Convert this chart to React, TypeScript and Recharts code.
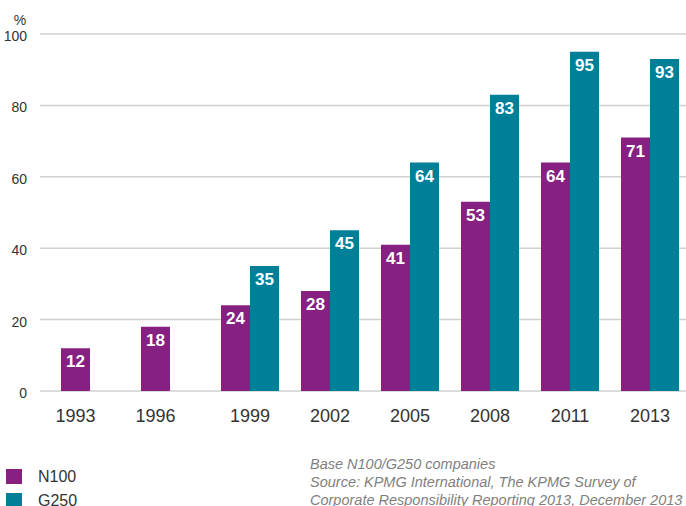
import React from 'react';
import {
  BarChart,
  Bar,
  XAxis,
  YAxis,
  CartesianGrid,
  LabelList,
  Label,
} from 'recharts';

const years = ['1993', '1996', '1999', '2002', '2005', '2008', '2011', '2013'];
const n100 = [12, 18, 24, 28, 41, 53, 64, 71];
const g250: (number | null)[] = [null, null, 35, 45, 64, 83, 95, 93];
const yTicks = [0, 20, 40, 60, 80, 100];

const series = [
  { key: 'n100', name: 'N100', color: '#862181' },
  { key: 'g250', name: 'G250', color: '#007F99' },
];

const notes = [
  'Base N100/G250 companies',
  'Source: KPMG International, The KPMG Survey of',
  'Corporate Responsibility Reporting 2013, December 2013',
];

const data = years.map((year, i) => ({ year, n100: n100[i], g250: g250[i] }));

const FONT = '"Liberation Sans", Arial, sans-serif';
const BAR = 29;

// years with only one bar get their label moved under that bar
const XTick = (props: any) => {
  const { x, y, payload } = props;
  const i = years.indexOf(payload.value);
  const shift = g250[i] == null ? -BAR / 2 : 0;
  return (
    <text
      x={x + shift}
      y={y}
      dy={23}
      textAnchor="middle"
      fontSize={18}
      fontFamily={FONT}
      fill="#333"
    >
      {payload.value}
    </text>
  );
};

const YTick = (props: any) => {
  const { y, payload } = props;
  return (
    <text
      x={27}
      y={y}
      dy={7}
      textAnchor="end"
      fontSize={14}
      fontFamily={FONT}
      fill="#333"
    >
      {payload.value}
    </text>
  );
};

export default function App() {
  return (
    <div
      style={{
        position: 'absolute',
        left: 0,
        top: 0,
        width: 686,
        height: 506,
        overflow: 'hidden',
        background: '#fff',
        fontFamily: FONT,
      }}
    >
      <BarChart
        width={690}
        height={430}
        data={data}
        margin={{ top: 34, right: 0, left: 0, bottom: 0 }}
        barGap={0}
        barSize={BAR}
      >
        <CartesianGrid vertical={false} stroke="#d0d0d0" strokeWidth={1.5} />
        <XAxis
          dataKey="year"
          axisLine={false}
          tickLine={false}
          height={39}
          padding={{ left: 10, right: 0 }}
          tick={<XTick />}
          interval={0}
        />
        <YAxis
          width={40}
          domain={[0, 100]}
          ticks={yTicks}
          axisLine={false}
          tickLine={false}
          tick={<YTick />}
          interval={0}
        >
          <Label
            content={(p: any) => (
              <text
                x={20}
                y={p.viewBox.y - 9}
                textAnchor="middle"
                fontSize={14}
                fontFamily={FONT}
                fill="#333"
              >
                %
              </text>
            )}
          />
        </YAxis>
        {series.map((s) => (
          <Bar
            key={s.key}
            dataKey={s.key}
            name={s.name}
            fill={s.color}
            isAnimationActive={false}
          >
            <LabelList
              dataKey={s.key}
              position="insideTop"
              offset={7}
              fill="#fff"
              fontSize={17}
              fontWeight="bold"
              fontFamily={FONT}
            />
          </Bar>
        ))}
      </BarChart>

      <div style={{ position: 'absolute', left: 6, top: 469 }}>
        {series.map((s) => (
          <div
            key={s.key}
            style={{ display: 'flex', alignItems: 'center', height: 24 }}
          >
            <div style={{ width: 16, height: 15, background: s.color, marginTop: -9 }} />
            <span
              style={{
                marginLeft: 16,
                fontSize: 16,
                color: '#333',
                marginTop: -9,
              }}
            >
              {s.name}
            </span>
          </div>
        ))}
      </div>

      <div
        style={{
          position: 'absolute',
          left: 310,
          top: 455,
          fontSize: 14.5,
          lineHeight: '18px',
          fontStyle: 'italic',
          color: '#7f7f7f',
          whiteSpace: 'nowrap',
        }}
      >
        {notes.map((n) => (
          <div key={n}>{n}</div>
        ))}
      </div>
    </div>
  );
}
